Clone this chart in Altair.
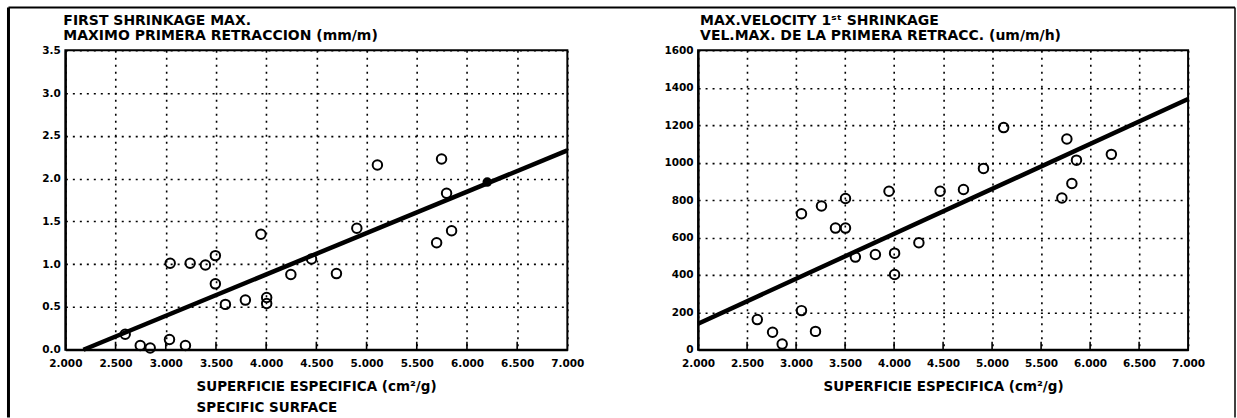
import altair as alt
import pandas as pd

# ---------------- data ----------------
# Left panel: first shrinkage maximum (mm/m) vs specific surface (cm²/g)
left_x = [2596, 2746, 2845, 3037, 3196, 3044, 3243, 3395, 3494, 3494, 3594, 3793,
          3948, 4005, 4005, 4246, 4452, 4700, 4903, 5108, 5747, 5797, 5698, 5847]
left_y = [0.18, 0.05, 0.02, 0.12, 0.05, 1.01, 1.01, 0.99, 1.10, 0.77, 0.53, 0.58,
          1.35, 0.61, 0.54, 0.88, 1.06, 0.89, 1.42, 2.16, 2.23, 1.83, 1.25, 1.39]
left_filled_x = [6202]
left_filled_y = [1.96]
left_fit_x = [2180, 7000]
left_fit_y = [0.0, 2.33]

# Right panel: max. velocity of 1st shrinkage (um/m/h) vs specific surface
right_x = [2604, 2760, 2858, 3055, 3198, 3055, 3259, 3402, 3504, 3504, 3605, 3809,
           3948, 4005, 4005, 4253, 4470, 4708, 4912, 5118, 5763, 5861, 5814, 5712, 6217]
right_y = [161, 93, 30, 209, 98, 727, 768, 650, 808, 650, 495, 509,
           847, 516, 402, 572, 847, 856, 969, 1187, 1126, 1013, 888, 811, 1044]
right_fit_x = [2000, 7000]
right_fit_y = [139, 1340]

x_ticks = [2000, 2500, 3000, 3500, 4000, 4500, 5000, 5500, 6000, 6500, 7000]
left_y_ticks = [0.0, 0.5, 1.0, 1.5, 2.0, 2.5, 3.0, 3.5]
right_y_ticks = [0, 200, 400, 600, 800, 1000, 1200, 1400, 1600]

left_title = "FIRST SHRINKAGE MAX.\nMAXIMO PRIMERA RETRACCION (mm/m)"
right_title = "MAX.VELOCITY 1ˢᵗ SHRINKAGE\nVEL.MAX. DE LA PRIMERA RETRACC. (um/m/h)"
left_x_title = ["SUPERFICIE ESPECIFICA (cm²/g)", "SPECIFIC SURFACE"]
right_x_title = "SUPERFICIE ESPECIFICA (cm²/g)"

FONT = "DejaVu Sans"
W_L, W_R, H = 503, 491, 300


def panel(px, py, fit_x, fit_y, y_ticks, y_max, y_fmt, title, x_title, width,
          title_x, filled_x=None, filled_y=None, x_title_left=None, frame=False):
    xs = alt.Scale(domain=[2000, 7000], nice=False, zero=False)
    ys = alt.Scale(domain=[0, y_max], nice=False, zero=False)
    ax_kw = dict(
        values=x_ticks, labelExpr="format(datum.value/1000, '.3f')",
        labelOverlap=False, labelBound=False, labelFlush=False,
        ticks=False, grid=True, gridColor="black", gridDash=[2, 5], gridWidth=1.6,
        gridOpacity=1, domainColor="black", domainWidth=2,
        labelFont=FONT, labelFontWeight="bold", labelFontSize=10.5, labelColor="black",
        labelPadding=9, title=x_title, titleFont=FONT, titleFontWeight="bold",
        titleFontSize=13.5, titleColor="black", titleBaseline="alphabetic",
        titleY=41, titleLineHeight=21,
    )
    if x_title_left is not None:
        ax_kw.update(titleAlign="left", titleX=x_title_left)
    x_axis = alt.Axis(**ax_kw)
    y_axis = alt.Axis(
        values=y_ticks, format=y_fmt, ticks=False, grid=True, gridColor="black",
        gridDash=[2, 5], gridWidth=1.6, gridOpacity=1, domainColor="black",
        domainWidth=2, labelFont=FONT, labelFontWeight="bold", labelFontSize=10.5,
        labelColor="black", labelPadding=5, labelOverlap=False, title=None,
    )
    X = alt.X("x:Q", scale=xs, axis=x_axis)
    Y = alt.Y("y:Q", scale=ys, axis=y_axis)

    pts = alt.Chart(pd.DataFrame({"x": px, "y": py})).mark_point(
        shape="circle", filled=False, size=90, strokeWidth=2, color="black", opacity=1
    ).encode(x=X, y=Y)
    fit = alt.Chart(pd.DataFrame({"x": fit_x, "y": fit_y})).mark_line(
        color="black", strokeWidth=4.5
    ).encode(x=X, y=Y)
    inner = alt.Chart(pd.DataFrame({"x": x_ticks[1:-1]})).mark_rule(
        color="black", strokeWidth=1.6
    ).encode(x=X, y=alt.value(H), y2=alt.value(H - 8))
    one = pd.DataFrame({"a": [0]})
    ttl = alt.Chart(one).mark_text(
        align="left", baseline="alphabetic", font=FONT, fontSize=14,
        fontWeight="bold", lineBreak="\n", lineHeight=15.5, color="black"
    ).encode(x=alt.value(title_x), y=alt.value(-25.5), text=alt.value(title))
    layers = [fit, pts, inner, ttl]
    if filled_x is not None:
        layers.append(
            alt.Chart(pd.DataFrame({"x": filled_x, "y": filled_y})).mark_point(
                shape="circle", filled=True, size=90, color="black", opacity=1
            ).encode(x=X, y=Y)
        )
    if frame:
        layers.append(alt.Chart(one).mark_rule(color="black", strokeWidth=3).encode(
            x=alt.value(-57), y=alt.value(-43), y2=alt.value(368)))
        layers.append(alt.Chart(one).mark_rule(color="black", strokeWidth=2).encode(
            x=alt.value(-57), x2=alt.value(1172), y=alt.value(-43)))
        layers.append(alt.Chart(one).mark_rule(color="black", strokeWidth=1.5).encode(
            x=alt.value(1172), y=alt.value(-43), y2=alt.value(368)))
    return alt.layer(*layers).properties(width=width, height=H)


left = panel(left_x, left_y, left_fit_x, left_fit_y, left_y_ticks, 3.5, ".1f",
             left_title, left_x_title, W_L, -2, left_filled_x, left_filled_y,
             x_title_left=131, frame=True)
right = panel(right_x, right_y, right_fit_x, right_fit_y, right_y_ticks, 1600, "d",
              right_title, right_x_title, W_R, 2)

chart = alt.hconcat(left, right, spacing=131, bounds="flush").properties(
    padding={"left": 5.5, "top": 4, "right": 0, "bottom": 0},
    background="white",
).configure_view(stroke="black", strokeWidth=2)

chart.save("out.html", embed_options={"renderer": "svg", "actions": False})
